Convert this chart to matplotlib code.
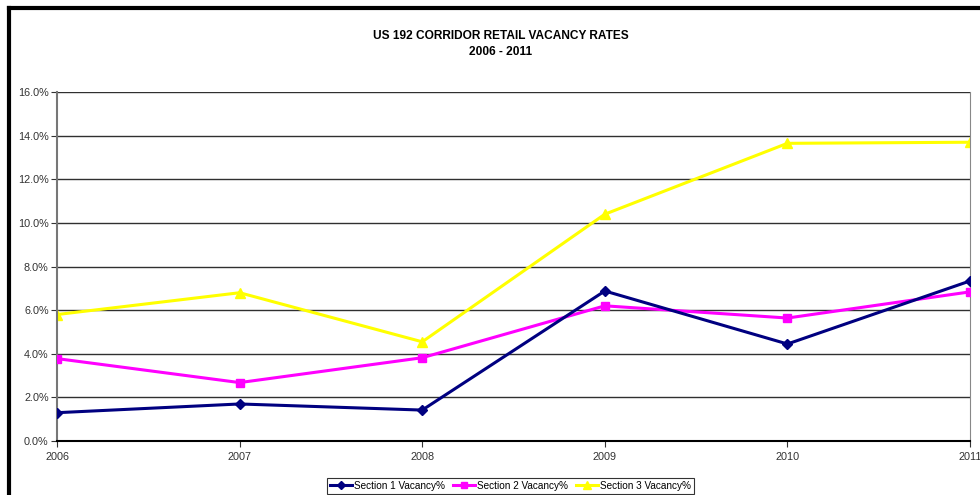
import matplotlib
matplotlib.use('Agg')
import matplotlib.pyplot as plt
from matplotlib.ticker import PercentFormatter
from matplotlib.lines import Line2D

plt.rcParams['font.family'] = ['Liberation Sans', 'DejaVu Sans']

years = [2006, 2007, 2008, 2009, 2010, 2011]
section1 = [1.3, 1.7, 1.42, 6.88, 4.45, 7.34]
section2 = [3.78, 2.68, 3.82, 6.2, 5.64, 6.84]
section3 = [5.8, 6.8, 4.55, 10.4, 13.65, 13.7]
labels = ['Section 1 Vacancy%', 'Section 2 Vacancy%', 'Section 3 Vacancy%']

fig = plt.figure(figsize=(9.8, 4.95), dpi=100)
ax = fig.add_axes([0.0582, 0.109, 0.9316, 0.705])

# outer chart frame (left and top edges, the rest runs off the page)
fig.add_artist(Line2D([0.0095, 0.0095], [0.0, 0.983], color='black', lw=3,
                      transform=fig.transFigure, solid_capstyle='projecting'))
fig.add_artist(Line2D([0.0095, 1.0], [0.983, 0.983], color='black', lw=3,
                      transform=fig.transFigure, solid_capstyle='projecting'))

ax.plot(years, section1, color='#000080', lw=2.2, marker='D', ms=5.5, label=labels[0], zorder=4)
ax.plot(years, section2, color='#ff00ff', lw=2.2, marker='s', ms=5.5, label=labels[1], zorder=3)
ax.plot(years, section3, color='#ffff00', lw=2.2, marker='^', ms=6.5, label=labels[2], zorder=2)

ax.set_xlim(2006, 2011)
ax.set_ylim(0, 16)
ax.set_yticks(range(0, 17, 2))
ax.yaxis.set_major_formatter(PercentFormatter(decimals=1))
ax.set_xticks(years)
ax.grid(axis='y', color='#303030', lw=1)
ax.set_axisbelow(True)

ax.spines['top'].set_visible(False)
ax.spines['left'].set_color('#777777')
ax.spines['right'].set_color('#888888')
ax.spines['bottom'].set_color('black')
ax.spines['left'].set_linewidth(1.5)
ax.spines['bottom'].set_linewidth(1.5)

ax.tick_params(axis='y', labelsize=7.8, colors='#333333', length=4, pad=2)
ax.tick_params(axis='x', labelsize=7.8, colors='#333333', length=4, pad=4)

fig.text(0.511, 0.927, 'US 192 CORRIDOR RETAIL VACANCY RATES', ha='center', va='center',
         fontsize=8.6, fontweight='bold')
fig.text(0.511, 0.895, '2006 - 2011', ha='center', va='center', fontsize=8.6, fontweight='bold')

leg = fig.legend(loc='lower center', bbox_to_anchor=(0.521, -0.008), ncol=3, fontsize=7.2,
                 frameon=True, fancybox=False, edgecolor='black', borderpad=0.3,
                 handlelength=2.2, handletextpad=0.2, columnspacing=0.8, markerscale=0.8)
leg.get_frame().set_linewidth(0.8)

fig.savefig('out.png', dpi=100)
